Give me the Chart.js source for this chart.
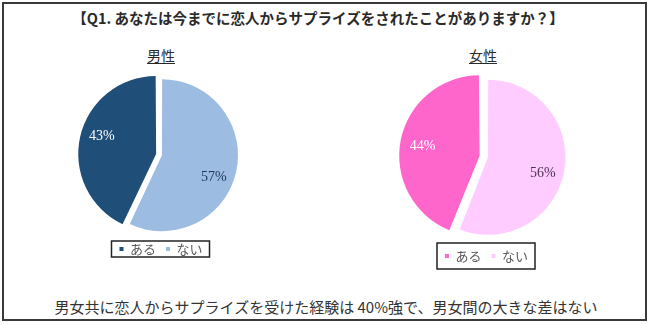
<!DOCTYPE html>
<html>
<head>
<meta charset="utf-8">
<script src="https://cdn.jsdelivr.net/npm/chart.js@4"></script>
<style>
  body { margin: 0; background: #fff; width: 650px; height: 325px; overflow: hidden; position: relative; }
  #frame { position: absolute; left: 2px; top: 2px; width: 645px; height: 319px; box-sizing: border-box; border: 2px solid #3a3a3a; }
  canvas { position: absolute; left: 0; top: 0; }
  .txt { position: absolute; font-family: "Noto Sans CJK JP", sans-serif; color: #2a2a2a; white-space: nowrap; transform: translateX(-50%); }
  #title { left: 318px; top: 7px; font-size: 14.5px; font-weight: bold; }
  .sub { top: 45px; font-size: 14px; text-decoration: underline; text-underline-offset: 2px; }
  #footer { left: 326px; top: 296px; font-size: 15px; color: #333; }
</style>
</head>
<body>
<div id="frame"></div>
<div class="txt" id="title">【Q1. あなたは今までに恋人からサプライズをされたことがありますか？】</div>
<div class="txt sub" style="left:161px">男性</div>
<div class="txt sub" style="left:483px">女性</div>
<div class="txt" id="footer">男女共に恋人からサプライズを受けた経験は 40%強で、男女間の大きな差はない</div>
<canvas id="maleChart" width="650" height="325"></canvas>
<canvas id="femaleChart" width="650" height="325"></canvas>
<script>
const categories = ['ある', 'ない'];
const maleValues = [43, 57];
const femaleValues = [44, 56];

// box drawn round the legend, like the excel one
const legendFrame = {
    id: 'legendFrame',
    afterDraw(chart, args, opts) {
        const boxes = chart.legend.legendHitBoxes;
        if (!boxes || !boxes.length) return;
        const first = boxes[0];
        const last = boxes[boxes.length - 1];
        const cy = first.top + first.height / 2;
        const left = first.left - 8;
        const right = last.left + last.width + 7;
        const ctx = chart.ctx;
        ctx.save();
        ctx.strokeStyle = '#222';
        ctx.lineWidth = 1.5;
        ctx.strokeRect(left, cy - opts.halfHeight, right - left, opts.halfHeight * 2);
        ctx.restore();
    }
};

// percentage text inside each slice
const sliceLabels = {
    id: 'sliceLabels',
    afterDatasetsDraw(chart, args, opts) {
        const ctx = chart.ctx;
        const meta = chart.getDatasetMeta(0);
        const values = chart.data.datasets[0].data;
        ctx.save();
        ctx.font = '14px "Liberation Serif", serif';
        ctx.textAlign = 'center';
        ctx.textBaseline = 'middle';
        meta.data.forEach((arc, i) => {
            const mid = (arc.startAngle + arc.endAngle) / 2 + (opts.turn[i] || 0) * Math.PI / 180;
            // chart.js moves an offset slice by offset / 4
            const dist = arc.outerRadius * opts.radius[i] + (arc.options.offset || 0) / 4;
            ctx.fillStyle = opts.colors[i];
            ctx.fillText(values[i] + '%', arc.x + Math.cos(mid) * dist, arc.y + Math.sin(mid) * dist);
        });
        ctx.restore();
    }
};

function createPie(canvasId, values, cfg) {
    const ctx = document.getElementById(canvasId).getContext('2d');
    const total = values.reduce((a, b) => a + b, 0);
    new Chart(ctx, {
        type: 'pie',
        data: {
            labels: categories,
            datasets: [{
                data: values,
                backgroundColor: cfg.colors,
                borderWidth: 0,
                offset: cfg.offsets
            }]
        },
        options: {
            responsive: false,
            animation: false,
            radius: cfg.radius,
            rotation: -values[0] / total * 360,
            layout: { padding: cfg.padding },
            plugins: {
                legend: {
                    position: 'bottom',
                    labels: {
                        boxWidth: 4,
                        boxHeight: 4,
                        padding: 10,
                        color: '#595959',
                        font: { family: '"Noto Sans CJK JP", sans-serif', size: 13 }
                    }
                },
                tooltip: { enabled: false },
                legendFrame: { halfHeight: cfg.frameHalf },
                sliceLabels: { colors: cfg.labelColors, radius: [0.76, 0.75], turn: cfg.turn }
            }
        },
        plugins: [legendFrame, sliceLabels]
    });
}

window.addEventListener('load', () => {
    createPie('maleChart', maleValues, {
        colors: ['#1f4e79', '#9dbce2'],
        labelColors: ['#ffffff', '#1f3864'],
        offsets: [20, 4],
        radius: 75,
        padding: { left: 61, right: 389, top: 77.5, bottom: 59.5 },
        frameHalf: 8,
        turn: [5, 10]
    });
    createPie('femaleChart', femaleValues, {
        colors: ['#ff66cc', '#ffccff'],
        labelColors: ['#ffffff', '#4d3350'],
        offsets: [28, 6],
        radius: 76,
        padding: { left: 386.5, right: 63.5, top: 74.5, bottom: 52.5 },
        frameHalf: 13,
        turn: [-1, 5]
    });
});
</script>
</body>
</html>
